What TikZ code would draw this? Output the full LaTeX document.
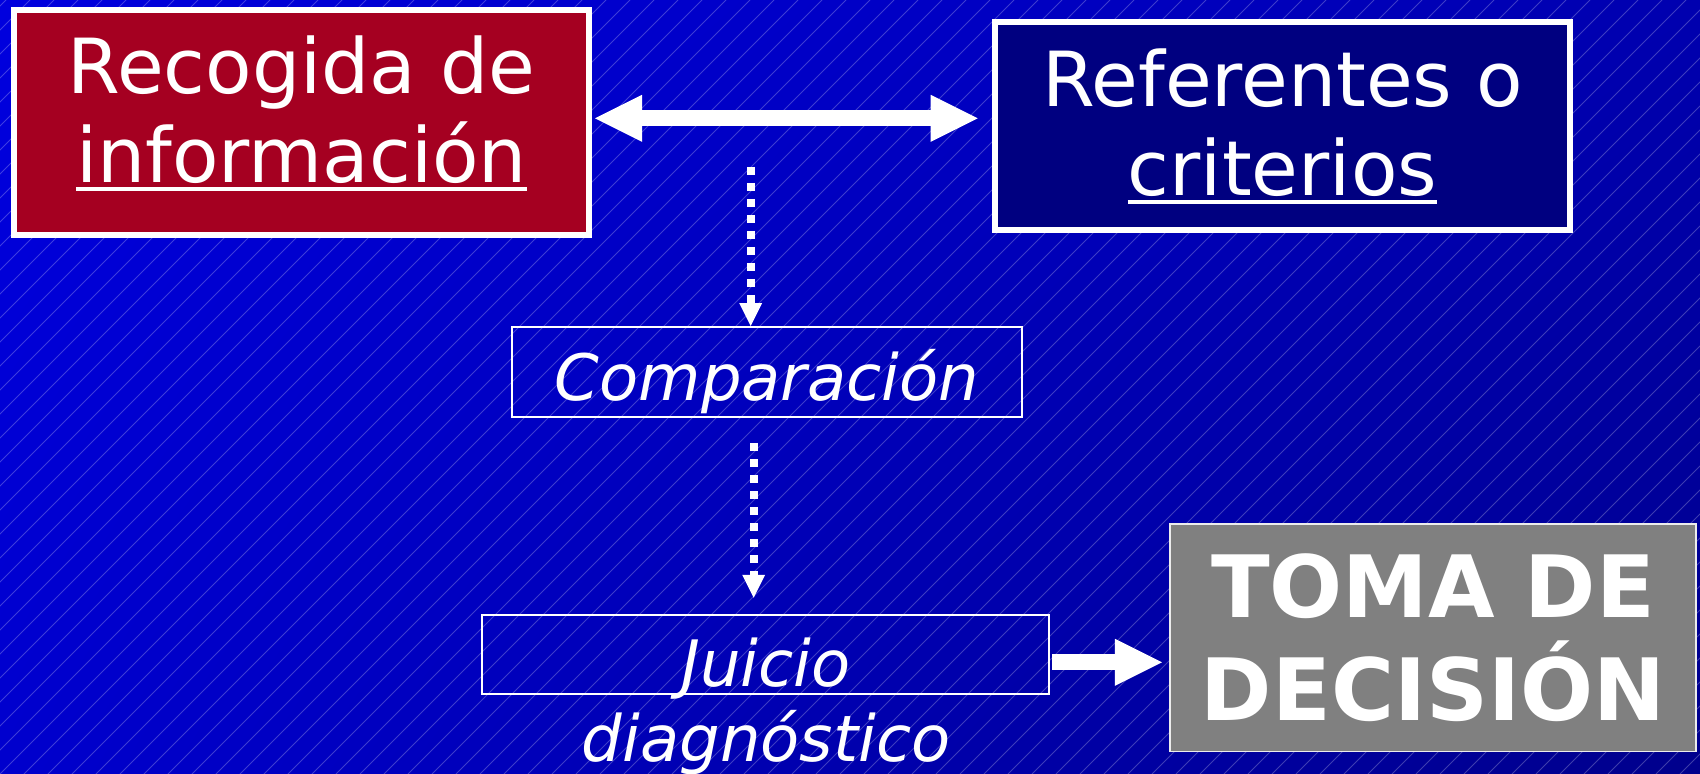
\documentclass[tikz,border=0pt]{standalone}
\usepackage{fontspec}
\setmainfont{DejaVu Sans}
\usetikzlibrary{arrows.meta,shadings}
\definecolor{bgUL}{RGB}{0,0,222}
\definecolor{bgUR}{RGB}{0,0,175}
\definecolor{bgLL}{RGB}{0,0,205}
\definecolor{bgLR}{RGB}{0,0,140}
\definecolor{recred}{RGB}{165,0,33}
\definecolor{refnavy}{RGB}{0,0,128}
\definecolor{tomagray}{RGB}{128,128,128}
\newcommand{\myul}[1]{\leavevmode\setbox0=\hbox{#1}\rlap{\rule[-4.25pt]{\wd0}{2pt}}\box0}
\begin{document}
\begin{tikzpicture}[x=0.5pt,y=-0.5pt,
  bgline/.style={white, opacity=0.24, line width=0.5pt},
  thickbox/.style={rectangle, draw=white, line width=3pt, inner sep=0pt, text=white, align=center,
    minimum width=287.5pt, font=\fontsize{38pt}{44.5pt}\selectfont},
  thinbox/.style={rectangle, draw=white, line width=1pt, inner sep=0pt, text=white, align=center},
  itfont/.style={font=\fontsize{32pt}{37.5pt}\selectfont\itshape},
  bigarrow/.style={line width=8pt, draw=white, -{Triangle[length=23.5pt,width=23.5pt,line width=0pt]}},
  dblarrow/.style={line width=8pt, draw=white, {Triangle[length=23.5pt,width=23.5pt,line width=0pt]}-{Triangle[length=23.5pt,width=23.5pt,line width=0pt]}},
  dotarrow/.style={line width=4pt, draw=white, dash pattern=on 4pt off 4pt, -{Triangle[length=11.5pt,width=11.5pt,line width=0pt]}}
]
\useasboundingbox (0,0) rectangle (1700,774);
% background
\shade[upper left=bgUL, upper right=bgUR, lower left=bgLL, lower right=bgLR] (0,0) rectangle (1700,774);
\begin{scope}
  \clip (0,0) rectangle (1700,774);
  \foreach \k in {-792,-768,...,1700} \draw[bgline] (\k,774) -- ++(774,-774);
\end{scope}

% nodes
\node[thickbox, fill=recred, minimum height=112.5pt, text depth=13.25pt] (rec) at (301.5,122.5) {Recogida de\\\myul{información}};
\node[thickbox, fill=refnavy, minimum width=287.8pt, minimum height=103.9pt] (ref) at (1282.5,126.4) {Referentes o\\\myul{criterios}};
\node[thinbox, itfont, minimum width=255.3pt, minimum height=45.15pt, text height=30pt, text depth=2pt] (comp) at (767,372.2) {Comparación};
\node[thinbox, minimum width=283.5pt, minimum height=39.5pt] (jbox) at (765.8,654.5) {};
\node[itfont, text=white, align=center, inner sep=0pt] (jtxt) at (766,706.5) {Juicio\\diagnóstico};
\node[rectangle, draw=white!85!gray, line width=0.75pt, fill=tomagray, inner sep=0pt, text=white, align=center,
  minimum width=263pt, minimum height=113.75pt, font=\fontsize{43pt}{51.35pt}\selectfont\bfseries] (toma) at (1433,637.8) {TOMA DE\\DECISIÓN};

\coordinate (d1s) at (750.7,167);
\coordinate (d2s) at (753.7,443);

% connectors
\draw[dblarrow, shorten <=1.5pt, shorten >=7pt] ([yshift=2.1pt]rec.east) -- ([yshift=2.1pt]rec.east -| ref.west);
\draw[dotarrow] (d1s) -- (d1s |- comp.north);
\draw[dotarrow, shorten >=8.1pt] (d2s) -- (d2s |- jbox.north);
\draw[bigarrow, shorten <=1pt, shorten >=3.65pt] ([yshift=-3.9pt]jbox.east) -- ([yshift=-3.9pt]jbox.east -| toma.west);
\end{tikzpicture}
\end{document}
